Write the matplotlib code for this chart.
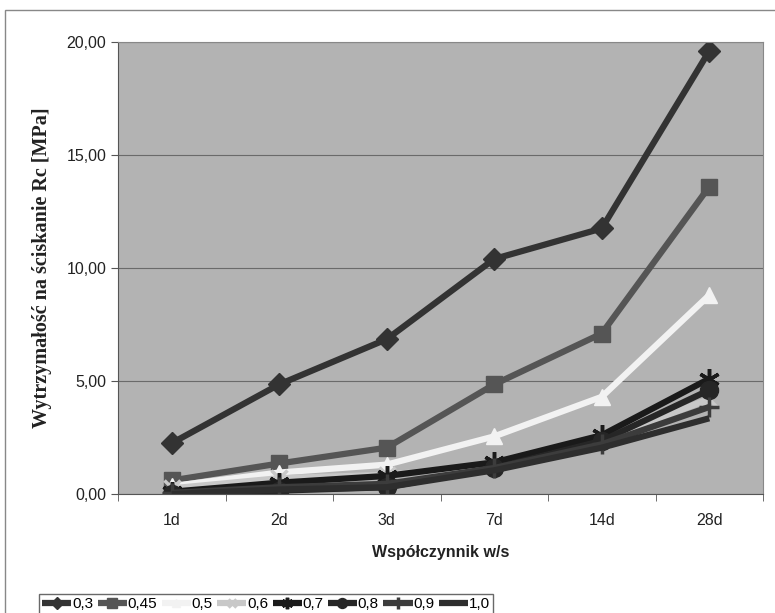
import matplotlib.pyplot as plt
from matplotlib.patches import Rectangle
from matplotlib.ticker import FuncFormatter, MultipleLocator

# Data
days = ['1d', '2d', '3d', '7d', '14d', '28d']
series_names = ['0,3', '0,45', '0,5', '0,6', '0,7', '0,8', '0,9', '1,0']
s03 = [2.25, 4.85, 6.85, 10.4, 11.75, 19.6]
s045 = [0.6, 1.35, 2.05, 4.85, 7.1, 13.6]
s05 = [0.35, 0.95, 1.3, 2.55, 4.3, 8.8]
s06 = [0.25, 0.7, 0.85, 1.3, 2.4, 4.2]
s07 = [0.1, 0.5, 0.8, 1.4, 2.6, 5.1]
s08 = [0.0, 0.15, 0.3, 1.15, 2.35, 4.6]
s09 = [0.05, 0.3, 0.45, 1.15, 2.2, 3.85]
s10 = [0.0, 0.2, 0.3, 1.05, 2.05, 3.35]
all_series = [s03, s045, s05, s06, s07, s08, s09, s10]

colors = ['#333333', '#555555', '#f2f2f2', '#c8c8c8', '#1a1a1a', '#262626', '#3c3c3c', '#2e2e2e']
markers = ['D', 's', '^', 'x', (6, 2, 0), 'o', '+', None]
msizes = [11, 12, 11, 11, 15, 13, 15, 0]

fig = plt.figure(figsize=(7.75, 6.13), dpi=100)
fig.patches.append(Rectangle((5 / 775, -0.01), 0.995, 1 - 10 / 613 + 0.01,
                             transform=fig.transFigure, fill=False,
                             edgecolor='#888888', linewidth=1))

ax = fig.add_axes([118 / 775, 1 - 494 / 613, (763 - 118) / 775, (494 - 42) / 613])
ax.set_facecolor('#b3b3b3')

x = list(range(len(days)))
for vals, name, c, m, ms in zip(all_series, series_names, colors, markers, msizes):
    ax.plot(x, vals, color=c, linewidth=4.5, marker=m, markersize=ms,
            markeredgewidth=2.5 if m in ('x', '+', (6, 2, 0)) else 1,
            markeredgecolor=c, label=name, solid_capstyle='butt')

ax.set_xlim(-0.5, 5.5)
ax.set_ylim(0, 20)
ax.set_xticks(x)
ax.set_xticklabels(days)
ax.set_xticks([i + 0.5 for i in range(-1, 6)], minor=True)
ax.tick_params(axis='x', which='major', length=0, pad=14)
ax.tick_params(axis='x', which='minor', length=5, color='#555555')
ax.tick_params(axis='y', length=5, color='#555555')
ax.yaxis.set_major_locator(MultipleLocator(5))
ax.yaxis.set_major_formatter(FuncFormatter(lambda v, p: f'{v:.2f}'.replace('.', ',')))
for lbl in ax.get_xticklabels() + ax.get_yticklabels():
    lbl.set_fontfamily('Liberation Sans')
    lbl.set_fontsize(11.5)
    lbl.set_color('#222222')

ax.grid(axis='y', color='#6a6a6a', linewidth=0.8)
ax.set_axisbelow(True)
for side in ['top', 'right']:
    ax.spines[side].set_color('#888888')
for side in ['left', 'bottom']:
    ax.spines[side].set_color('#555555')

ax.set_xlabel('Współczynnik w/s', fontfamily='Liberation Sans', fontweight='bold',
              fontsize=11.5, color='#222222', labelpad=12)
ax.set_ylabel('Wytrzymałość na ściskanie Rc [MPa]', fontfamily='Liberation Serif',
              fontweight='bold', fontsize=14.5, color='#222222', labelpad=10)

leg = fig.legend(loc='center', bbox_to_anchor=(266 / 775, 1 - 604 / 613), ncol=8,
                 frameon=True, fancybox=False, edgecolor='#444444',
                 handlelength=1.9, handletextpad=0.05, columnspacing=0.3,
                 borderpad=0.2, borderaxespad=0, markerscale=0.55,
                 prop={'family': 'Liberation Sans', 'size': 11})
leg.get_frame().set_linewidth(1)

fig.savefig('out.png', dpi=100, facecolor='white')
